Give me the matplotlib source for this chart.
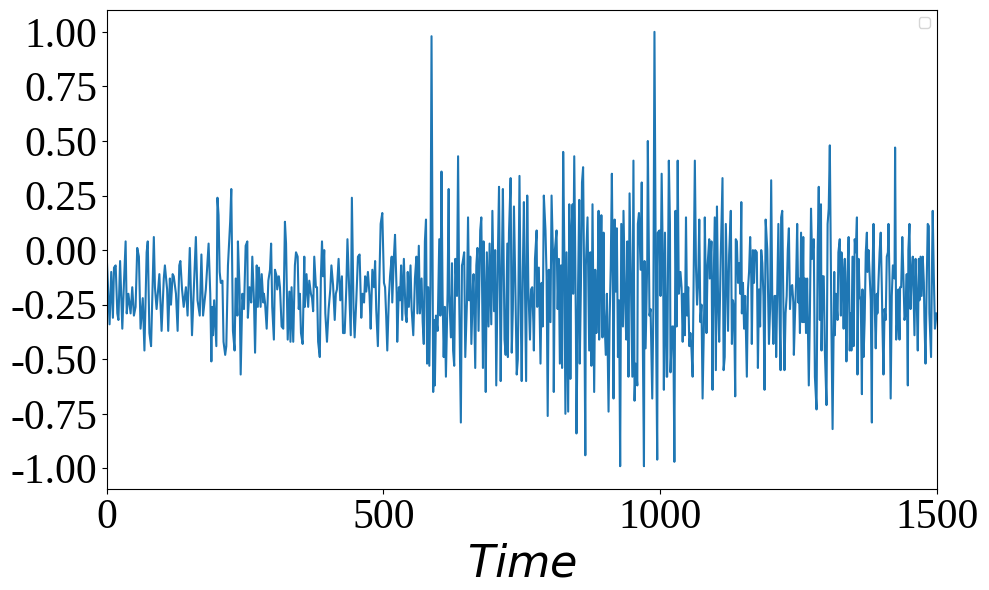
import matplotlib
matplotlib.use("Agg")
import matplotlib.pyplot as plt

# turning points of the signal (time, value)
time = [0, 5, 8, 11, 13, 16, 19, 21, 24, 28, 31, 34, 36, 39, 43, 46, 49, 52, 55, 58,
        61, 65, 68, 72, 74, 77, 80, 82, 85, 87, 90, 95, 99, 103, 105, 109, 111, 114, 116, 119,
        121, 125, 128, 131, 133, 136, 139, 143, 146, 150, 154, 158, 161, 164, 168, 171, 174, 179,
        184, 187, 189, 190.5, 192, 194, 198, 200, 202, 204, 206, 209, 211, 214, 216, 219, 223, 225,
        228, 231, 233, 236, 237, 240, 242, 245, 248, 251, 254, 255, 258, 261, 263, 266, 268, 271,
        273, 275, 278, 280, 283, 284, 286, 289, 292, 295, 297, 299, 302, 304, 307, 308, 311, 313,
        316, 319, 322, 324, 327, 330, 332, 334, 337, 340, 342, 345, 347, 349, 351, 354, 357, 358,
        361, 364, 366, 369, 371, 373, 375, 378, 380, 382, 385, 387, 389, 391, 393, 395, 398, 401,
        404, 406, 409, 412, 414, 416, 419, 422, 425, 427, 430, 433, 435, 438, 441, 443, 446, 448,
        451, 454, 457, 460, 462, 465, 467, 469, 472, 475, 477, 480, 483, 485, 487, 490, 492, 495,
        498, 501, 503, 505, 507, 510, 512, 515, 516, 519, 521, 524, 525, 528, 530, 532, 534, 537,
        540, 542, 544, 546, 549, 551, 554, 557, 559.7, 561.5, 564, 566, 569, 571, 573, 575, 577, 579,
        581, 583, 585, 587, 590, 592, 593, 595, 598, 601, 603, 605, 607, 609, 611, 613, 616, 618,
        619, 622, 624, 626, 628, 630, 633, 635, 637, 640, 642, 643, 646, 648, 651, 653, 655, 657,
        659, 662, 663, 666, 668, 670, 672, 675, 677, 680, 681, 683, 685, 687, 690, 692, 695, 697,
        700, 702, 704, 707, 709, 712, 714, 716, 719, 721, 724, 725, 727, 730, 732, 734, 736, 739,
        741, 743, 746, 748, 750, 752, 754, 758, 760, 762, 765, 767, 769, 771, 772, 774, 777, 778,
        781, 783, 784, 786, 788, 790, 793, 795, 797, 799, 802, 804, 807, 808, 810, 813, 815, 817,
        819, 821, 823, 825, 827, 829, 831, 834, 836, 838, 840, 842, 843, 845, 848, 849, 852, 854,
        855, 857, 859, 861, 863, 865, 866, 869, 871, 872, 874, 876, 878, 880, 881, 883, 885, 887,
        889, 890, 892, 894, 896, 898, 899, 902, 904, 907, 909, 911, 913, 915, 916, 918, 920, 922,
        924, 926, 928, 930, 933, 934, 937, 939, 941, 943, 945, 950, 952, 954, 956, 959, 960, 962,
        965, 967, 969, 971, 972, 974, 977, 978, 981, 983, 986, 988, 990, 993, 995, 996, 999, 1001,
        1003, 1006, 1007, 1009, 1012, 1013, 1016, 1018, 1019, 1022, 1024, 1026, 1028, 1030, 1032,
        1034, 1037, 1039, 1041, 1043, 1045, 1047, 1049, 1051, 1053, 1055, 1057, 1059, 1061, 1063,
        1065, 1067, 1069, 1071, 1073, 1075, 1077, 1080, 1081, 1084, 1086, 1089, 1090, 1093, 1095,
        1096, 1099, 1101, 1103, 1105, 1107, 1110, 1113, 1115, 1117, 1119, 1121, 1123, 1125, 1128,
        1130, 1132, 1134, 1136, 1137, 1139, 1141, 1143, 1145, 1147, 1148, 1150, 1152, 1154, 1157,
        1159, 1161, 1163, 1165, 1166, 1168, 1170, 1172, 1175, 1177, 1179, 1181, 1183, 1185, 1187,
        1189, 1191, 1194, 1197, 1199, 1201, 1203, 1205, 1207, 1209, 1210, 1212, 1214, 1216, 1218,
        1219, 1221, 1223, 1225, 1227, 1229, 1231, 1233, 1235, 1237, 1239, 1241, 1242, 1244, 1246,
        1248, 1250, 1251, 1253, 1255, 1257, 1259, 1260, 1262, 1264, 1266, 1269, 1271, 1273, 1275,
        1278, 1280, 1283, 1285, 1287, 1289, 1291, 1292, 1294, 1296, 1298, 1301, 1303, 1305, 1307,
        1310, 1312, 1315, 1316, 1318, 1321, 1322.5, 1325, 1327, 1328, 1330, 1332, 1334, 1336, 1337,
        1339, 1341, 1343, 1345, 1346, 1348, 1350, 1352, 1354, 1356, 1357, 1359, 1361, 1363, 1365,
        1366, 1368, 1370, 1372, 1374, 1375, 1377, 1379, 1381, 1383, 1384, 1386, 1388, 1390, 1392,
        1393, 1395, 1397, 1399, 1401, 1402, 1404, 1406, 1408, 1410, 1412, 1413, 1415, 1417, 1419,
        1421, 1424, 1425, 1427, 1429, 1431, 1433, 1434, 1436, 1438, 1440, 1442, 1444, 1446, 1448,
        1449, 1451, 1453, 1455, 1457, 1459, 1460, 1462, 1464, 1466, 1468, 1469, 1471, 1473, 1475,
        1477, 1478, 1480, 1482, 1484, 1486, 1487, 1490, 1492, 1493, 1495, 1497, 1500]

value = [-0.04, -0.34, -0.10, -0.31, -0.08, -0.07, -0.29, -0.32, -0.05, -0.36, -0.15, 0.04, -0.29,
         -0.20, -0.29, -0.17, -0.30, -0.26, 0.01, -0.03, -0.36, -0.22, -0.46, -0.01, 0.04, -0.38,
         -0.44, -0.24, 0.06, -0.17, -0.27, -0.11, -0.37, -0.13, -0.07, -0.18, -0.37, -0.13, -0.25,
         -0.11, -0.12, -0.20, -0.37, -0.07, -0.05, -0.18, -0.26, -0.17, -0.30, 0.01, -0.39, -0.13,
         0.06, -0.23, -0.30, -0.02, -0.30, -0.18, 0.03, -0.20, -0.51, -0.26, -0.39, -0.23, -0.44,
         0.24, 0.16, -0.10, -0.15, -0.14, -0.42, -0.48, -0.44, -0.07, 0.13, 0.28, -0.37, -0.46,
         -0.13, -0.30, 0.04, -0.18, -0.57, -0.20, -0.27, 0.02, 0.04, -0.31, -0.17, -0.24, -0.03,
         -0.23, -0.47, -0.07, -0.26, -0.08, -0.26, -0.11, -0.24, -0.20, -0.24, -0.36, -0.14,
         -0.09, 0.03, -0.26, -0.41, -0.09, -0.12, -0.18, -0.12, -0.17, -0.35, -0.36, 0.13, 0.03,
         -0.41, -0.19, -0.42, -0.17, -0.42, -0.07, -0.01, -0.03, -0.27, -0.20, -0.38, -0.43,
         -0.03, -0.26, -0.11, -0.26, -0.14, -0.20, -0.22, -0.28, -0.03, -0.17, -0.17, -0.42,
         -0.49, -0.12, 0.04, -0.12, 0.00, -0.29, -0.42, -0.27, -0.18, -0.07, -0.16, -0.32, -0.20,
         -0.18, -0.04, -0.23, -0.12, -0.38, -0.38, -0.17, 0.05, -0.17, -0.39, 0.24, -0.27, -0.40,
         -0.23, -0.03, -0.02, -0.31, -0.20, -0.24, -0.12, -0.19, -0.10, -0.21, -0.36, -0.09,
         -0.17, -0.05, -0.27, -0.44, -0.21, 0.12, 0.17, -0.15, -0.17, -0.30, -0.46, -0.21, -0.12,
         -0.03, -0.24, -0.03, 0.07, -0.20, -0.42, -0.17, -0.23, -0.07, -0.32, -0.04, -0.29, -0.33,
         -0.10, -0.26, -0.07, -0.27, -0.39, -0.13, -0.03, -0.29, 0.02, -0.29, -0.13, -0.33, -0.43,
         0.04, 0.14, -0.52, -0.17, -0.53, -0.17, 0.98, -0.65, -0.32, -0.62, -0.30, -0.37, 0.05,
         -0.30, 0.36, -0.21, -0.49, -0.26, -0.58, -0.20, 0.28, -0.20, -0.40, -0.06, -0.46, -0.53,
         -0.04, -0.21, 0.43, -0.21, -0.79, -0.07, -0.06, -0.01, -0.49, -0.24, 0.15, -0.23, -0.03,
         -0.43, -0.15, -0.11, -0.54, -0.07, 0.01, -0.37, 0.09, 0.15, -0.54, 0.04, -0.17, -0.65,
         -0.01, -0.35, 0.03, -0.34, 0.18, -0.28, 0.00, -0.62, -0.01, 0.29, -0.60, -0.09, 0.28,
         -0.41, -0.48, 0.03, -0.49, 0.08, 0.33, -0.47, -0.27, 0.20, -0.24, -0.57, -0.50, 0.34,
         -0.24, -0.60, -0.10, 0.22, -0.60, 0.25, -0.17, -0.41, -0.18, -0.17, -0.33, -0.46, -0.04,
         0.09, -0.26, -0.08, -0.38, -0.52, -0.15, -0.35, 0.25, 0.09, -0.12, -0.76, -0.09, -0.33,
         0.25, -0.07, -0.65, 0.00, 0.09, -0.27, -0.04, -0.52, -0.07, -0.54, 0.45, 0.00, -0.75,
         -0.01, -0.74, 0.21, -0.59, 0.09, 0.21, -0.20, 0.43, -0.35, -0.84, -0.15, 0.23, -0.52,
         -0.17, 0.31, 0.38, -0.17, -0.94, -0.07, 0.15, -0.26, -0.46, -0.01, -0.53, 0.21, -0.39,
         -0.65, -0.09, -0.38, -0.24, 0.18, -0.41, -0.16, 0.16, -0.40, 0.08, -0.27, -0.48, -0.20,
         -0.74, -0.31, -0.07, 0.35, -0.21, -0.68, 0.14, -0.19, 0.10, -0.49, -0.23, -0.99, 0.12,
         -0.35, 0.18, -0.24, -0.41, 0.04, -0.58, 0.26, -0.58, 0.41, -0.69, -0.52, -0.62, 0.12,
         0.17, -0.09, 0.31, -0.44, -0.99, -0.05, -0.45, -0.04, 0.50, -0.30, -0.27, -0.68, -0.27,
         1.00, -0.39, -0.96, 0.08, 0.09, -0.21, 0.35, -0.21, -0.64, 0.08, -0.58, -0.58, 0.41,
         0.12, -0.56, -0.35, -0.35, -0.97, 0.18, -0.35, 0.41, -0.20, -0.10, -0.17, -0.42, -0.20,
         -0.39, 0.15, -0.30, -0.17, -0.44, -0.38, -0.46, -0.58, -0.07, 0.41, -0.07, -0.25, -0.15,
         0.14, -0.33, -0.25, -0.68, -0.26, 0.15, -0.38, -0.07, 0.05, -0.13, 0.04, -0.64, -0.31,
         0.15, -0.55, 0.20, -0.24, -0.42, -0.01, 0.33, -0.55, -0.49, 0.12, -0.13, -0.37, -0.02,
         0.18, -0.43, -0.23, -0.27, -0.67, 0.05, 0.04, -0.15, -0.06, -0.20, 0.22, -0.29, -0.15,
         -0.36, -0.21, -0.58, -0.18, -0.10, 0.06, -0.13, -0.43, 0.00, -0.15, 0.00, -0.01, -0.54,
         -0.18, -0.35, 0.00, -0.06, -0.21, -0.64, 0.14, 0.00, -0.43, -0.27, 0.32, -0.24, -0.43,
         -0.21, -0.21, -0.49, -0.18, 0.12, -0.27, -0.55, 0.15, 0.18, -0.24, -0.55, -0.29, -0.21,
         0.00, 0.10, -0.27, -0.17, -0.16, -0.24, -0.48, -0.30, -0.15, 0.12, -0.24, -0.13, -0.38,
         0.08, -0.33, 0.06, -0.33, -0.13, -0.38, -0.13, -0.62, -0.29, 0.19, -0.04, 0.05, -0.58,
         -0.73, 0.00, 0.29, -0.32, 0.21, -0.46, -0.12, -0.12, -0.46, -0.71, 0.12, 0.19, 0.48,
         -0.38, -0.82, -0.10, -0.39, -0.20, -0.32, -0.01, 0.05, -0.30, -0.01, -0.09, -0.36,
         -0.04, -0.27, -0.51, -0.10, 0.06, -0.46, -0.29, -0.46, -0.03, -0.44, 0.05, -0.01, 0.15,
         -0.57, -0.04, -0.21, -0.23, -0.66, -0.18, -0.49, -0.32, -0.01, 0.08, -0.10, 0.00, -0.12,
         -0.23, -0.79, -0.12, 0.12, -0.24, -0.45, -0.20, -0.29, -0.14, -0.01, 0.08, -0.17, -0.33,
         -0.57, -0.27, -0.32, -0.03, -0.01, 0.12, -0.15, -0.68, -0.21, -0.07, -0.13, 0.47, -0.41,
         -0.32, -0.18, -0.41, -0.17, -0.17, 0.06, -0.12, -0.32, -0.29, -0.11, -0.62, 0.00, 0.12,
         -0.27, -0.10, -0.03, -0.26, -0.39, -0.04, -0.21, -0.46, -0.04, -0.23, -0.03, -0.21,
         -0.03, -0.15, -0.32, -0.52, -0.17, 0.12, 0.11, -0.29, -0.49, -0.01, 0.18, -0.12, -0.36,
         -0.29, -0.36, -0.04]

n = min(len(time), len(value))
print(len(time), len(value))

plt.rcParams['axes.unicode_minus'] = False

fig = plt.figure(figsize=(9.89, 5.9), dpi=100)
ax = fig.add_axes([0.108, 0.171, 0.839, 0.812])
ax.plot(time[:n], value[:n], color='#1f77b4', linewidth=1.5)
ax.set_xlim(0, 1500)
ax.set_ylim(-1.095, 1.10)
ax.set_yticks([-1.0, -0.75, -0.5, -0.25, 0.0, 0.25, 0.5, 0.75, 1.0])
ax.set_xticks([0, 500, 1000, 1500])
for lab in ax.get_xticklabels() + ax.get_yticklabels():
    lab.set_fontfamily('Liberation Serif')
    lab.set_fontsize(30)
ax.set_yticklabels(['-1.00', '-0.75', '-0.50', '-0.25', '0.00', '0.25', '0.50', '0.75', '1.00'],
                   fontfamily='Liberation Serif', fontsize=30)
ax.set_xlabel('$Time$', fontsize=32)
ax.legend(loc='upper right')

fig.savefig('out.png', dpi=100)
